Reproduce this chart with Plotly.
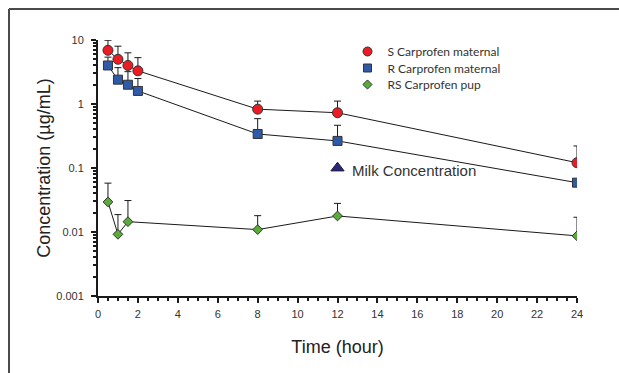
import math
import plotly.graph_objects as go

time_h = [0.5, 1, 1.5, 2, 8, 12, 24]
s_maternal = [6.9, 5.0, 4.0, 3.3, 0.83, 0.73, 0.121]
s_maternal_err = [3.0, 3.0, 2.3, 2.0, 0.28, 0.38, 0.10]
r_maternal = [4.0, 2.4, 2.0, 1.6, 0.34, 0.265, 0.059]
r_maternal_err = [1.4, 1.3, 1.2, 0.9, 0.25, 0.20, 0.0]
rs_pup = [0.0295, 0.0092, 0.0145, 0.0109, 0.0178, 0.0087]
rs_pup_time = [0.5, 1, 1.5, 8, 12, 24]
rs_pup_err = [0.0285, 0.0095, 0.0165, 0.0071, 0.0102, 0.0083]
milk_time = [12]
milk_conc = [0.1]
milk_label = "Milk Concentration"

x_ticks = list(range(0, 25, 2))
y_ticks = [0.001, 0.01, 0.1, 1, 10]
y_tick_labels = ["0.001", "0.01", "0.1", "1", "10"]

W, H = 619, 373
L, R, T, B = 98, 42, 40, 77
pw, ph = W - L - R, H - T - B

fig = go.Figure()

def add_series(x, y, err, name, symbol, color, size, lsize, legend_id):
    fig.add_trace(go.Scatter(
        x=x, y=y, mode="lines+markers", showlegend=False,
        line=dict(color="#1a1a1a", width=1),
        marker=dict(symbol=symbol, size=size, color=color, line=dict(color="#333333", width=1)),
        error_y=dict(type="data", symmetric=False, array=err, arrayminus=[0] * len(err),
                     color="#1a1a1a", thickness=1, width=3.5),
    ))
    fig.add_trace(go.Scatter(
        x=[None], y=[None], mode="markers", name=name, legend=legend_id,
        marker=dict(symbol=symbol, size=lsize, color=color, line=dict(color="#333333", width=1)),
    ))

add_series(time_h, s_maternal, s_maternal_err, "S Carprofen maternal", "circle", "#ec1c24", 10, 9, "legend")
add_series(time_h, r_maternal, r_maternal_err, "R Carprofen maternal", "square", "#2f5aa8", 9, 8, "legend2")
add_series(rs_pup_time, rs_pup, rs_pup_err, "RS Carprofen pup", "diamond", "#5aac3a", 7.5, 7, "legend3")

fig.add_trace(go.Scatter(
    x=milk_time, y=milk_conc, mode="markers", showlegend=False,
    marker=dict(symbol="triangle-up", size=11.5, color="#2e2777", line=dict(color="#1a1a40", width=1)),
))
fig.add_annotation(
    x=milk_time[0], y=math.log10(milk_conc[0]), text=milk_label, showarrow=False,
    xanchor="left", yanchor="middle", xshift=12, yshift=-2,
    font=dict(family="Liberation Sans, Arial", size=15, color="#333333"),
)

def legend_at(top_px):
    return dict(x=(347.5 - L) / pw, y=1 - (top_px - T) / ph, xanchor="left", yanchor="top",
                bgcolor="rgba(0,0,0,0)", font=dict(family="Lato", size=12, color="#333333"),
                itemsizing="trace")

fig.update_layout(
    width=W, height=H,
    margin=dict(l=L, r=R, t=T, b=B, pad=0),
    paper_bgcolor="white", plot_bgcolor="white",
    font=dict(family="Liberation Sans, Arial", color="#333333"),
    legend=legend_at(37),
    legend2=legend_at(53.5),
    legend3=legend_at(70),
    xaxis=dict(
        range=[0, 24], tickvals=x_ticks, ticks="outside", ticklen=5, tickwidth=2, tickcolor="#1a1a1a",
        showline=True, linecolor="#1a1a1a", linewidth=2, showgrid=False, zeroline=False,
        tickfont=dict(size=11, color="#333333"), ticklabelstandoff=2,
        minor=dict(dtick=0.5, ticks="outside", ticklen=3, tickwidth=2, tickcolor="#1a1a1a", showgrid=False),
        title=dict(text="Time (hour)", font=dict(size=18, color="#222222"), standoff=21),
    ),
    yaxis=dict(
        type="log", range=[-3, 1], tickvals=y_ticks, ticktext=y_tick_labels,
        ticks="outside", ticklen=5, tickwidth=2, tickcolor="#1a1a1a",
        showline=True, linecolor="#1a1a1a", linewidth=2, showgrid=False, zeroline=False,
        tickfont=dict(size=11, color="#333333"), ticklabelstandoff=5,
        minor=dict(tickvals=[m * 10 ** e for e in range(-3, 1) for m in range(2, 10)],
                   ticks="outside", ticklen=3, tickwidth=2, tickcolor="#1a1a1a", showgrid=False),
        title=dict(text="Concentration (µg/mL)", font=dict(size=18, color="#222222"), standoff=1),
    ),
)

top_y = 1 + (T - 9) / ph
left_x = (9 - L) / pw
fig.add_shape(type="line", xref="paper", yref="paper", x0=left_x, x1=(W - L) / pw + 0.01,
              y0=top_y, y1=top_y, line=dict(color="#4a4a4a", width=2))
fig.add_shape(type="line", xref="paper", yref="paper", x0=left_x, x1=left_x,
              y0=top_y, y1=-(B + 5) / ph, line=dict(color="#4a4a4a", width=2))

fig.write_html(
    "out.html",
    config={"displayModeBar": False},
    post_script="document.body.style.margin='0';document.body.style.overflow='hidden';",
)
